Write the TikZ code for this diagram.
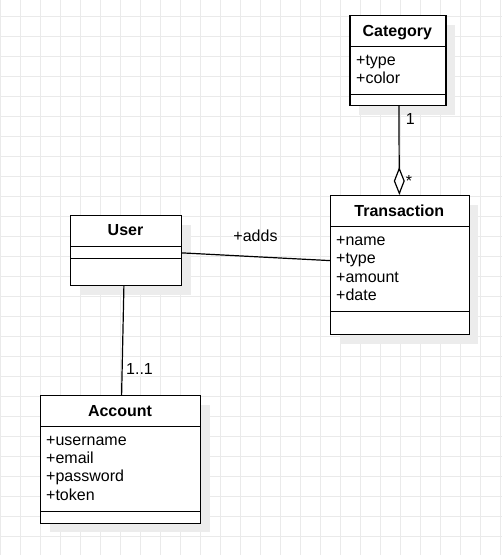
\documentclass[tikz,border=0pt]{standalone}
\usepackage{fontspec}
\setmainfont{Liberation Sans}
\usetikzlibrary{arrows.meta,calc,shadows}
\definecolor{gridline}{RGB}{234,234,234}
\definecolor{shadowgray}{RGB}{236,236,236}
\begin{document}
\begin{tikzpicture}[x=1pt,y=-1pt,
  classbox/.style={draw=black, line width=1.2pt, fill=white, rectangle,
    inner sep=0pt, anchor=north west,
    general shadow={fill=shadowgray, shadow xshift=9pt, shadow yshift=-9pt}},
  sep/.style={draw=black, line width=1.2pt},
  title/.style={anchor=base, inner sep=0pt, font=\fontsize{16}{19}\selectfont\bfseries},
  attr/.style={anchor=base west, inner sep=0pt, font=\fontsize{16}{19}\selectfont},
  lbl/.style={anchor=base, inner sep=0pt, font=\fontsize{16}{19}\selectfont},
  assoc/.style={draw=black, line width=1.2pt}]
  % canvas and background grid
  \useasboundingbox (0,0) rectangle (502,555);
  \fill[white] (0,0) rectangle (502,555);
  \foreach \x in {0,...,25}
    \draw[gridline, line width=1pt] ({20*\x+0.5},0) -- ({20*\x+0.5},555);
  \foreach \y in {0,...,26}
    \draw[gridline, line width=1pt] (0,{20*\y+16}) -- (502,{20*\y+16});

  % class Category
  \node[classbox, minimum width=96pt, minimum height=90pt] (cat) at (349.3,15) {};
  \draw[sep] ($(cat.north west)+(0,31.7)$) -- ($(cat.north east)+(0,31.7)$);
  \draw[sep] ($(cat.north west)+(0,79.3)$) -- ($(cat.north east)+(0,79.3)$);
  \node[title] (cat-t) at (397.3,36.7) {Category};
  \foreach \t [count=\i] in {+type,+color}
    \node[attr] (cat-a\i) at (356,{65+18.6*(\i-1)}) {\t};

  % class Transaction
  \node[classbox, minimum width=138.7pt, minimum height=139pt] (trans) at (330,195) {};
  \draw[sep] ($(trans.north west)+(0,31.7)$) -- ($(trans.north east)+(0,31.7)$);
  \draw[sep] ($(trans.north west)+(0,116.7)$) -- ($(trans.north east)+(0,116.7)$);
  \node[title] (trans-t) at (399.3,216) {Transaction};
  \foreach \t [count=\i] in {+name,+type,+amount,+date}
    \node[attr] (trans-a\i) at (336,{245+18.6*(\i-1)}) {\t};

  % class User
  \node[classbox, minimum width=111pt, minimum height=70pt] (user) at (70,215) {};
  \draw[sep] ($(user.north west)+(0,31.7)$) -- ($(user.north east)+(0,31.7)$);
  \draw[sep] ($(user.north west)+(0,43.3)$) -- ($(user.north east)+(0,43.3)$);
  \node[title] (user-t) at (125.5,235.7) {User};

  % class Account
  \node[classbox, minimum width=160pt, minimum height=127.7pt] (acc) at (40,395) {};
  \draw[sep] ($(acc.north west)+(0,31.7)$) -- ($(acc.north east)+(0,31.7)$);
  \draw[sep] ($(acc.north west)+(0,116.7)$) -- ($(acc.north east)+(0,116.7)$);
  \node[title] (acc-t) at (120,416) {Account};
  \foreach \t [count=\i] in {+username,+email,+password,+token}
    \node[attr] (acc-a\i) at (46,{445+18.4*(\i-1)}) {\t};

  % associations
  \draw[assoc, -{Diamond[open, fill=white, length=28pt, width=11pt, line width=1.2pt]}]
    ($(cat.south)+(1,0)$) -- ($(trans.north)+(-0.6,0)$);
  \node[lbl] (m-one) at (410.3,124) {1};
  \node[lbl] (m-many) at (409,186) {*};

  \draw[assoc] ($(user.east)+(0,2.3)$) -- ($(trans.west)+(0,-4.5)$);
  \node[lbl] (adds) at (255.5,241.7) {+adds};

  \draw[assoc] ($(user.south)+(-2.2,0)$) -- ($(acc.north)+(1,0)$);
  \node[lbl] (one-one) at (139.5,374.3) {1..1};
\end{tikzpicture}
\end{document}
